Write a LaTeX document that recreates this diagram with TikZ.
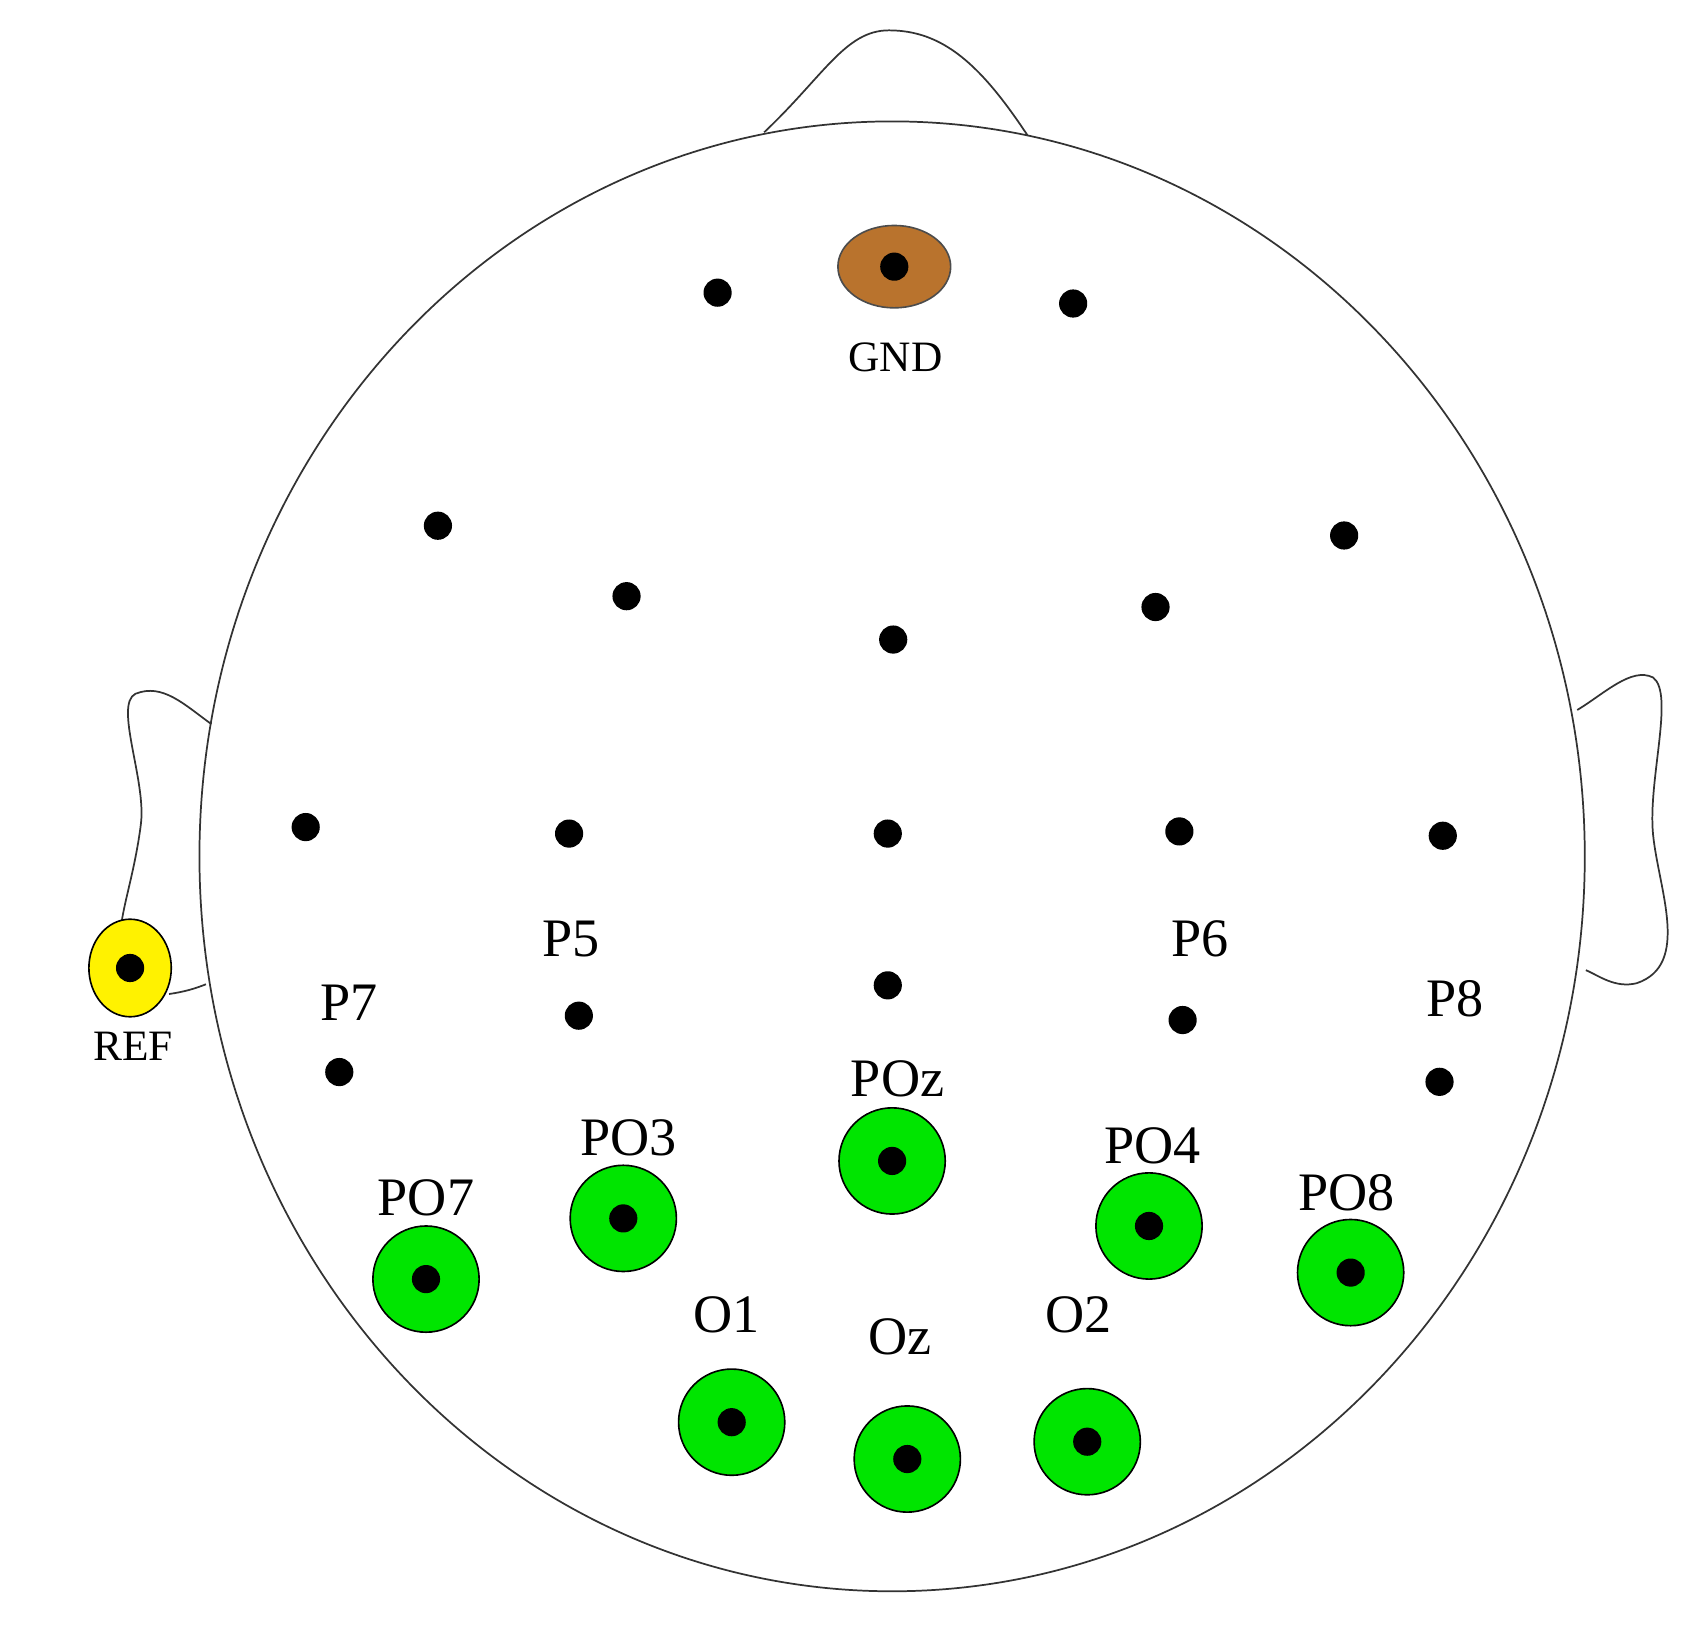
\documentclass[tikz,border=0pt]{standalone}
\usetikzlibrary{shapes.geometric}
\usepackage{fontspec}
\setmainfont{Liberation Serif}
\begin{document}
\begin{tikzpicture}[x=1pt,y=-1pt,
  dot/.style={circle,fill=black,inner sep=0pt,minimum size=26pt},
  elec/.style={circle,draw=black,line width=1.5pt,fill=green!90!black,inner sep=0pt,minimum size=98pt},
  lab/.style={font=\fontsize{50}{56}\selectfont},
  outline/.style={line width=1.6pt,draw=black!80}]
\useasboundingbox (0,0) rectangle (1560,1506);
% head
\draw[outline] (823,790) ellipse [x radius=639, y radius=678];
\draw[outline] (705,122) .. controls (760,70) and (780,28) .. (820,28) .. controls (870,28) and (905,60) .. (948,125);
% ears
\draw[outline] (195,668) .. controls (170,650) and (150,630) .. (125,640) .. controls (105,650) and (135,720) .. (130,760) .. controls (125,800) and (115,830) .. (112,852);
\draw[outline] (156,917) .. controls (170,915) and (180,912) .. (190,908);
\draw[outline] (1455,655) .. controls (1480,640) and (1505,615) .. (1525,625) .. controls (1545,640) and (1520,720) .. (1525,770) .. controls (1530,820) and (1560,890) .. (1510,907) .. controls (1490,912) and (1475,900) .. (1463,895);
% GND and REF
\node[ellipse,draw=black!70,line width=1.5pt,fill={rgb,255:red,185;green,115;blue,45},minimum width=104pt,minimum height=76pt] (gnd) at (825,246) {};
\node[dot] (gndd) at (gnd) {};
\node[font=\fontsize{40}{46}\selectfont] (gndl) at (826,330) {GND};
\node[ellipse,draw=black,line width=1.5pt,fill=yellow,minimum width=76pt,minimum height=90pt] (ref) at (120,893) {};
\node[dot] (refd) at (ref) {};
\node[font=\fontsize{40}{46}\selectfont] (refl) at (123,965) {REF};
% plain dots
\foreach \n/\x/\y in {a/662/270,b/990/280,c/404/485,d/1240/494,e/578/550,f/1066/560,g/824/590,h/282/763,i/525/769,j/819/769,k/1088/767,l/1331/771,m/819/909,p5/534/937,p6/1091/941,p7/313/989,p8/1328/998}
  \node[dot] (\n) at (\x,\y) {};
% green electrodes
\foreach \n/\x/\y in {PO7/393/1180,PO3/575/1124,POz/823/1071,PO4/1060/1131,PO8/1246/1174,O1/675/1312,Oz/837/1346,O2/1003/1330}{
  \node[elec] (\n) at (\x,\y) {};
  \node[dot] (\n d) at (\n) {};}
% labels
\foreach \t/\x/\y in {P7/322/925,P5/527/866,P6/1107/866,P8/1342/921,POz/828/995,PO3/580/1050,PO7/393/1105,PO4/1063/1057,PO8/1242/1100,O1/670/1213,Oz/830/1233,O2/995/1213}
  \node[lab] (l\t) at (\x,\y) {\t};
\end{tikzpicture}
\end{document}
